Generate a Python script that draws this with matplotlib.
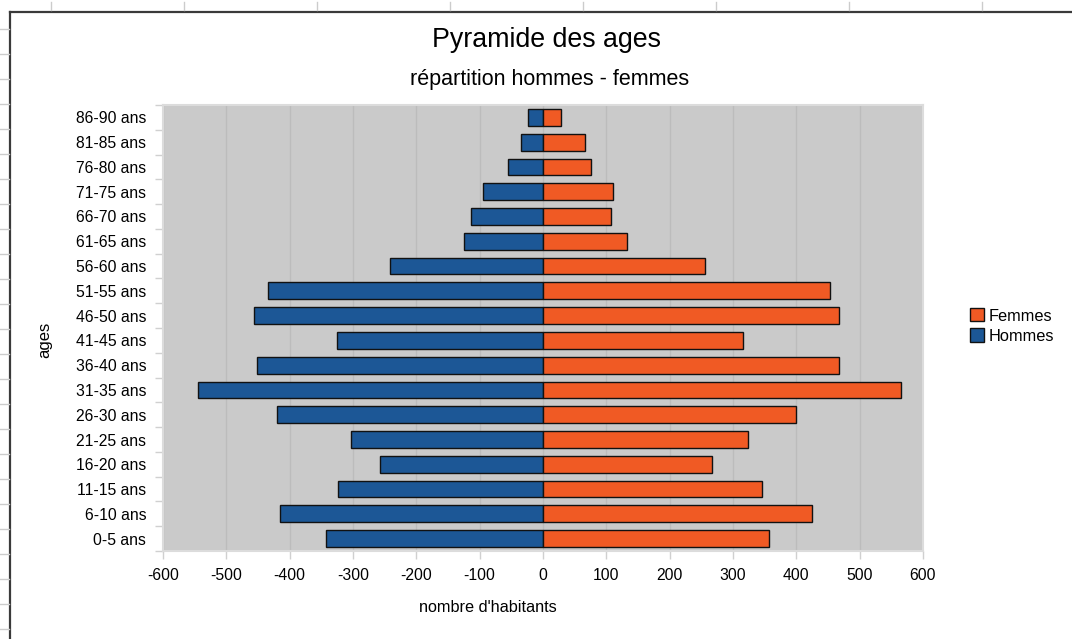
import matplotlib

matplotlib.use('Agg')

import matplotlib.pyplot as plt
from matplotlib.lines import Line2D
from matplotlib.patches import Patch

plt.rcParams['font.family'] = ['Liberation Sans', 'DejaVu Sans']

ages = ["0-5 ans", "6-10 ans", "11-15 ans", "16-20 ans", "21-25 ans", "26-30 ans",
        "31-35 ans", "36-40 ans", "41-45 ans", "46-50 ans", "51-55 ans", "56-60 ans",
        "61-65 ans", "66-70 ans", "71-75 ans", "76-80 ans", "81-85 ans", "86-90 ans"]
hommes = [-342, -415, -323, -257, -303, -420, -545, -452, -325, -457, -434, -242,
          -125, -113, -95, -56, -34, -24]
femmes = [357, 424, 345, 267, 323, 399, 565, 467, 316, 467, 453, 255,
          133, 108, 110, 76, 66, 29]
xticks = [-600, -500, -400, -300, -200, -100, 0, 100, 200, 300, 400, 500, 600]

blue = '#1c5796'
orange = '#f05a24'

fig = plt.figure(figsize=(10.72, 6.39), dpi=100)

# spreadsheet frame around the chart
fig.add_artist(Line2D([10/1072, 1], [1 - 12/639, 1 - 12/639], color='#3a3a3a', lw=1.6))
fig.add_artist(Line2D([10/1072, 10/1072], [0, 1 - 12/639], color='#3a3a3a', lw=1.6))
for px in range(51, 1072, 133):
    fig.add_artist(Line2D([px/1072, px/1072], [1 - 2/639, 1 - 10/639], color='#cccccc', lw=1))
for py in range(29, 639, 25):
    fig.add_artist(Line2D([0, 9/1072], [1 - py/639, 1 - py/639], color='#cccccc', lw=1))

ax = fig.add_axes([163/1072, 88/639, 760/1072, 446/639])
ax.set_facecolor('#cacaca')
ax.set_axisbelow(True)
ax.grid(axis='x', color='#bcbcbc', lw=1)

y = range(len(ages))
ax.barh(y, hommes, height=0.68, color=blue, edgecolor='#111111', lw=1)
ax.barh(y, femmes, height=0.68, color=orange, edgecolor='#111111', lw=1)

ax.set_xlim(-600, 600)
ax.set_ylim(-0.5, len(ages) - 0.5)
ax.set_xticks(xticks)
ax.set_xticklabels([str(v) for v in xticks], fontsize=11.3)
ax.set_yticks(list(y))
ax.set_yticklabels(ages, fontsize=11.3)
ax.tick_params(axis='y', length=0, pad=12)
ax.set_yticks([i - 0.5 for i in range(len(ages) + 1)], minor=True)
ax.tick_params(axis='y', which='minor', length=6, color='#d0d0d0', width=1)
ax.tick_params(axis='x', length=6, color='#d0d0d0', width=1, pad=6)
for s in ax.spines.values():
    s.set_color('#dcdcdc')
    s.set_linewidth(1.5)

fig.text(547/1072, 1 - 40/639, "Pyramide des ages", ha='center', va='center', fontsize=19.3)
fig.text(550/1072, 1 - 79/639, "répartition hommes - femmes", ha='center', va='center', fontsize=15.5)
fig.text(488/1072, 1 - 607/639, "nombre d'habitants", ha='center', va='center', fontsize=11.7)
fig.text(45/1072, 1 - 340/639, "ages", ha='center', va='center', rotation=90, fontsize=12)

handles = [Patch(facecolor=orange, edgecolor='#111111', label='Femmes'),
           Patch(facecolor=blue, edgecolor='#111111', label='Hommes')]
fig.legend(handles=handles, loc='center left', bbox_to_anchor=(962/1072, 1 - 326/639),
           frameon=False, fontsize=11.8, handlelength=0.85, handleheight=0.85,
           handletextpad=0.3, labelspacing=0.3, borderpad=0)

fig.savefig('out.png', dpi=100)
